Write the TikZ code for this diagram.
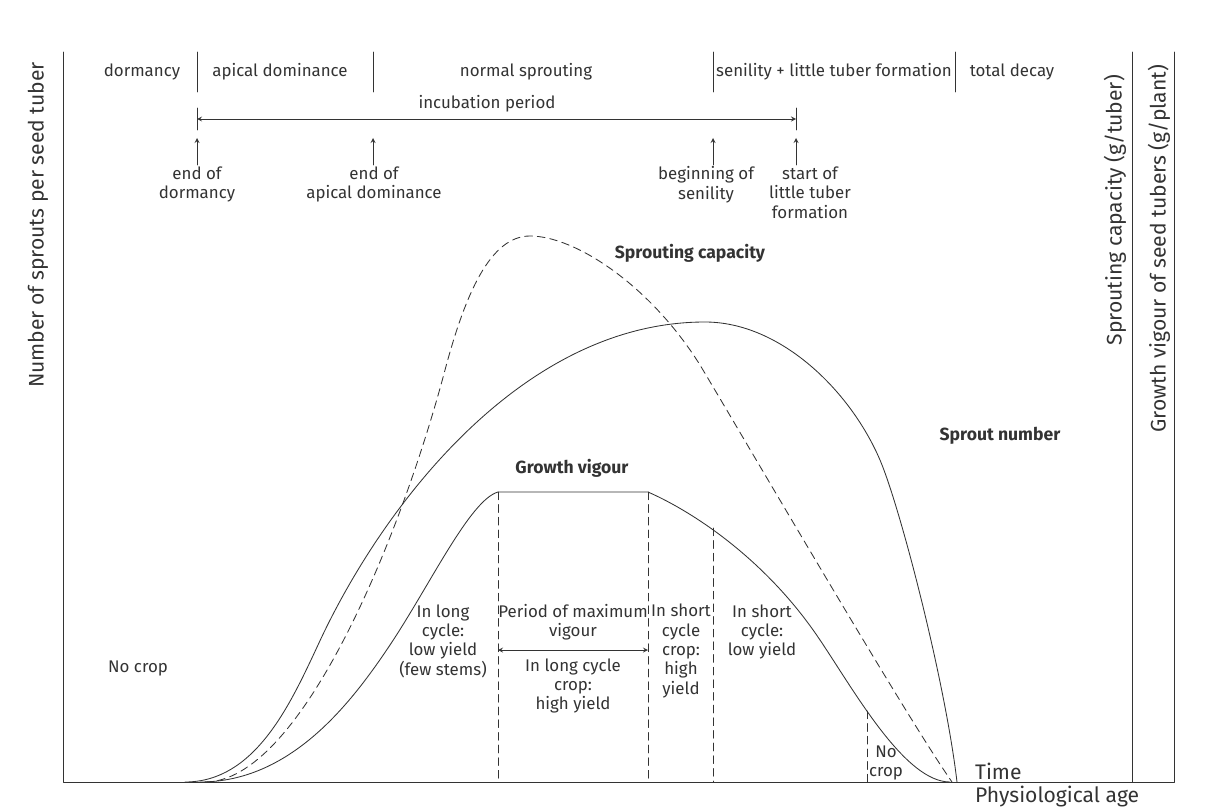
\documentclass[tikz,border=0pt]{standalone}
\usepackage{fontspec}
\setmainfont{Fira Sans}
\usetikzlibrary{arrows.meta}
\begin{document}
\begin{tikzpicture}[x=0.025cm, y=-0.025cm, >=stealth, font=\fontsize{12}{13.7}\selectfont, line join=round, line cap=round, color=black!80, line width=0.6pt,
	lbl/.style={align=center, inner sep=1pt},
	boldlbl/.style={font=\fontsize{12.5}{14}\selectfont\bfseries},
	axlbl/.style={font=\fontsize{15}{17}\selectfont},
	dsh/.style={dash pattern=on 5.5pt off 3.5pt}]
	\def\xo{63} \def\yo{782} \def\xr{1132} \def\xrr{1174} \def\ytop{52}
	\useasboundingbox (0,0) rectangle (1213,808);
	\coordinate (base) at (0,\yo);
	\draw (\xo,\ytop)--(\xo,\yo)--(\xrr,\yo)--(\xrr,\ytop);
	\draw (\xr,\ytop)--(\xr,\yo);
	\node[axlbl, rotate=90, anchor=east] (ySprouts) at (38,57) {Number of sprouts per seed tuber};
	\node[axlbl, rotate=90, anchor=east] (yCapacity) at (1115,70) {Sprouting capacity (g/tuber)};
	\node[axlbl, rotate=90, anchor=east] (yVigour) at (1159,60) {Growth vigour of seed tubers (g/plant)};
	\node[axlbl, anchor=west] (time) at (970,771) {Time};
	\node[axlbl, anchor=west] (physAge) at (970,797) {Physiological age};
	\foreach \x in {197,373,713,955} \draw (\x,\ytop)--(\x,92);
	\node (dorm) at (142,72) {dormancy};
	\node (apDom) at (280,72) {apical dominance};
	\node (normSpr) at (526,72) {normal sprouting};
	\node (senil) at (834,72) {senility + little tuber formation};
	\node (decay) at (1012,72) {total decay};
	\node (incub) at (487,104) {incubation period};
	\coordinate (incL) at (197,119); \coordinate (incR) at (796,119);
	\draw[<->] (incL)--(incR);
	\draw (incL) ++(0,-11)--++(0,22) (incR) ++(0,-11)--++(0,22);
	\foreach \x/\lx/\nm/\txt in {197/197/eDorm/{end of\\dormancy}, 373/374/eApic/{end of\\apical dominance}, 713/706/bSen/{beginning of\\senility}, 796/810/sTub/{start of\\little tuber\\formation}}{
		\coordinate (\nm-t) at (\x,138);
		\node[lbl, anchor=north] (\nm) at (\lx,165) {\txt};
		\draw[->] (\nm-t |- \nm.north)--(\nm-t);
	}
	\draw (185,782) .. controls (255,782) and (290,705) .. (318,645)
		.. controls (380,510) and (520,322) .. (705,322)
		.. controls (780,322) and (850,390) .. (880,460)
		.. controls (900,507) and (945,680) .. (957,782);
	\draw[dsh] (205,782) .. controls (300,782) and (400,540) .. (445,370)
		.. controls (465,295) and (490,236) .. (530,236)
		.. controls (575,236) and (650,285) .. (700,365)
		.. controls (745,440) and (905,715) .. (952,782);
	\coordinate (vigL) at (498,492); \coordinate (vigR) at (648,492);
	\coordinate (vigS) at (713,528); \coordinate (vigN) at (867,711);
	\draw (200,782) .. controls (290,782) and (350,705) .. (390,645)
		.. controls (430,585) and (470,500) .. (vigL) -- (vigR)
		.. controls (700,515) and (770,565) .. (820,640)
		.. controls (855,692) and (905,782) .. (950,782);
	\foreach \c in {vigL,vigR,vigS,vigN} \draw[dsh] (\c)--(\c |- base);
	\coordinate (maxL) at (498,650); \coordinate (maxR) at (648,650);
	\draw[<->] (maxL)--(maxR);
	\node[boldlbl] (capLbl) at (690,253) {Sprouting capacity};
	\node[boldlbl] (vigLbl) at (572,468) {Growth vigour};
	\node[boldlbl] (numLbl) at (1000,436) {Sprout number};
	\node (noCropA) at (138,668) {No crop};
	\node[lbl] (lowLong) at (443,641) {In long\\cycle:\\low yield\\(few stems)};
	\node[lbl] (maxVig) at (573,622) {Period of maximum\\vigour};
	\node[lbl] (hiLong) at (573,686) {In long cycle\\crop:\\high yield};
	\node[lbl] (hiShort) at (681,651) {In short\\cycle\\crop:\\high\\yield};
	\node[lbl] (lowShort) at (762,632) {In short\\cycle:\\low yield};
	\node[lbl] (noCropB) at (886,763) {No\\crop};
\end{tikzpicture}
\end{document}
